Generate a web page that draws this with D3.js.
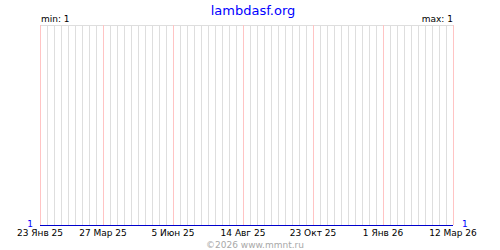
<!DOCTYPE html>
<html lang="ru">
<head>
<meta charset="UTF-8">
<title>lambdasf.org</title>
<script src="https://d3js.org/d3.v7.min.js"></script>
<style>
  html, body { margin: 0; padding: 0; background: #fff; }
  text { font-family: "DejaVu Sans", Verdana, sans-serif; }
</style>
</head>
<body>
<div id="chart"></div>
<script>
// данные
const title = "lambdasf.org";
const copyright = "©2026 www.mmnt.ru";
const seriesDates = ["2025-01-23", "2026-03-12"];
const seriesValues = [1, 1];
const tickDates = ["2025-01-23", "2025-03-27", "2025-06-05", "2025-08-14", "2025-10-23", "2026-01-01", "2026-03-12"];
const tickLabels = ["23 Янв 25", "27 Мар 25", "5 Июн 25", "14 Авг 25", "23 Окт 25", "1 Янв 26", "12 Мар 26"];

const W = 500, H = 250;
const margin = { top: 25, right: 47, bottom: 25, left: 40 };

const parse = d3.utcParse("%Y-%m-%d");
const dates = seriesDates.map(parse);
const ticks = tickDates.map(parse);
const points = dates.map((d, i) => ({ date: d, value: seriesValues[i] }));

const svg = d3.select("#chart").append("svg")
    .attr("width", W)
    .attr("height", H)
    .attr("shape-rendering", "crispEdges");

const x = d3.scaleUtc()
    .domain(d3.extent(dates))
    .range([margin.left, W - margin.right]);

const vMin = d3.min(seriesValues), vMax = d3.max(seriesValues);
const y = d3.scaleLinear()
    .domain([vMin, vMax > vMin ? vMax : vMin + 1])
    .range([H - margin.bottom, margin.top]);

// недельная сетка
const weeks = d3.utcDay.range(x.domain()[0], d3.utcDay.offset(x.domain()[1], 1), 7);
svg.append("g").selectAll("line")
    .data(weeks)
    .join("line")
    .attr("x1", d => Math.round(x(d)) + 0.5)
    .attr("x2", d => Math.round(x(d)) + 0.5)
    .attr("y1", margin.top)
    .attr("y2", H - margin.bottom)
    .attr("stroke", "#dedede");

// верхняя линия
svg.append("line")
    .attr("x1", margin.left).attr("x2", W - margin.right + 1)
    .attr("y1", margin.top + 0.5).attr("y2", margin.top + 0.5)
    .attr("stroke", "#dedede");

// основные деления
svg.append("g").selectAll("line")
    .data(ticks)
    .join("line")
    .attr("x1", d => Math.round(x(d)) + 0.5)
    .attr("x2", d => Math.round(x(d)) + 0.5)
    .attr("y1", margin.top)
    .attr("y2", H - margin.bottom)
    .attr("stroke", "#ffc4c4");

// ряд
const line = d3.line()
    .x(d => x(d.date))
    .y(d => y(d.value) + 0.5);

svg.append("path")
    .datum(points)
    .attr("fill", "none")
    .attr("stroke", "#0000cc")
    .attr("stroke-width", 1.5)
    .attr("d", line);

// подписи оси X
svg.append("g").selectAll("text")
    .data(ticks)
    .join("text")
    .attr("x", d => x(d))
    .attr("y", 236)
    .attr("text-anchor", "middle")
    .attr("font-size", 9)
    .attr("fill", "#000")
    .text((d, i) => tickLabels[i]);

// значения слева и справа
svg.append("text")
    .attr("x", margin.left - 7)
    .attr("y", y(seriesValues[0]) + 2)
    .attr("text-anchor", "end")
    .attr("font-size", 9)
    .attr("fill", "#0000ff")
    .text(seriesValues[0]);

svg.append("text")
    .attr("x", W - margin.right + 9)
    .attr("y", y(seriesValues[seriesValues.length - 1]) + 2)
    .attr("font-size", 9)
    .attr("fill", "#0000ff")
    .text(seriesValues[seriesValues.length - 1]);

// min / max
svg.append("text")
    .attr("x", margin.left + 1)
    .attr("y", 22)
    .attr("font-size", 9)
    .attr("fill", "#000")
    .text("min: " + vMin);

svg.append("text")
    .attr("x", W - margin.right)
    .attr("y", 22)
    .attr("text-anchor", "end")
    .attr("font-size", 9)
    .attr("fill", "#000")
    .text("max: " + vMax);

// заголовок
svg.append("text")
    .attr("x", 253)
    .attr("y", 15)
    .attr("text-anchor", "middle")
    .attr("font-size", 13)
    .attr("fill", "#0000ff")
    .text(title);

svg.append("text")
    .attr("x", 255)
    .attr("y", 248)
    .attr("text-anchor", "middle")
    .attr("font-size", 9)
    .attr("fill", "#a8a8a8")
    .text(copyright);
</script>
</body>
</html>
